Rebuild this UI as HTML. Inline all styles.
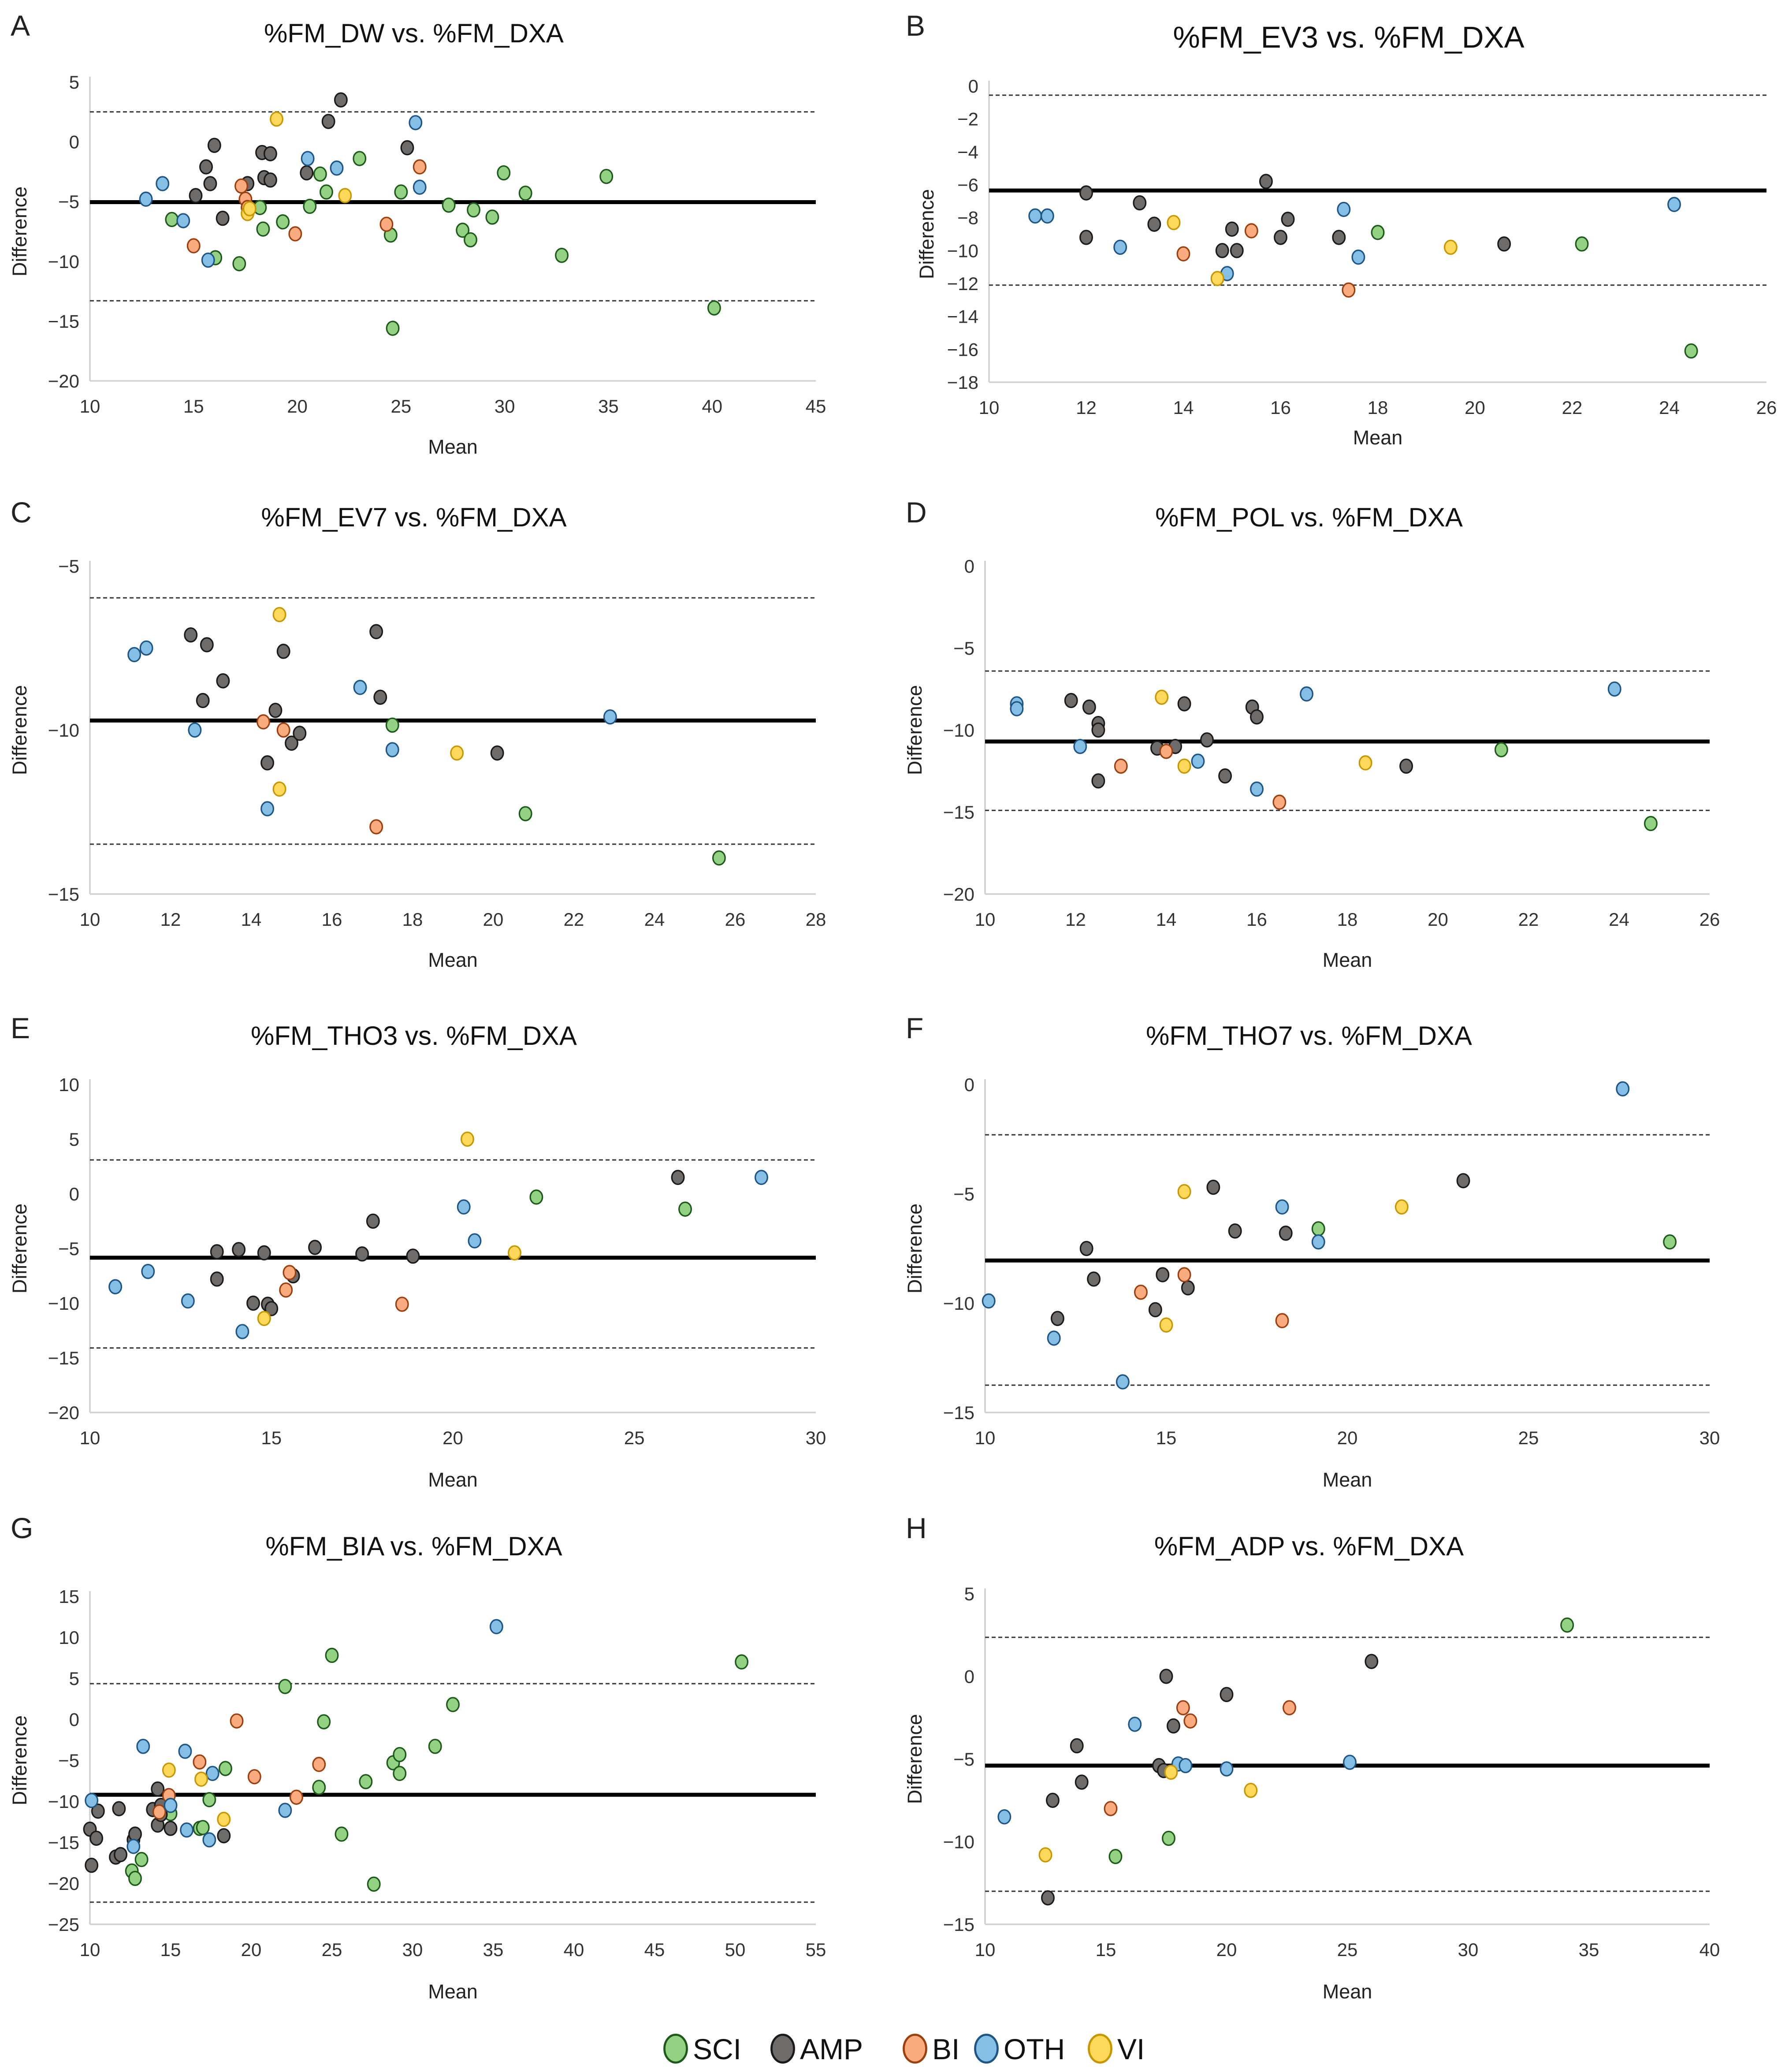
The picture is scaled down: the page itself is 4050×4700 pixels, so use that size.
<!DOCTYPE html>
<html><head><meta charset="utf-8"><title>Bland-Altman plots</title>
<style>
html,body{margin:0;padding:0;background:#fff;}
svg{display:block;font-family:"Liberation Sans",sans-serif;}
</style></head>
<body>
<svg id="fig" width="4050" height="4700" viewBox="0 0 1350 1566.67" xmlns="http://www.w3.org/2000/svg"></svg>
<script>
// ---------- DATA (mean, difference) ----------
const A_SCI=[[13.95,-6.5],[16.05,-9.7],[17.2,-10.2],[18.35,-7.3],[19.3,-6.7],[18.2,-5.5],[20.6,-5.4],[21.1,-2.7],[21.4,-4.2],[23.0,-1.4],[24.5,-7.8],[25.0,-4.2],[27.3,-5.3],[27.97,-7.4],[28.35,-8.2],[28.5,-5.7],[29.4,-6.3],[29.95,-2.6],[31.0,-4.3],[32.75,-9.5],[34.9,-2.9],[40.1,-13.9],[24.6,-15.6]];
const A_AMP=[[15.1,-4.5],[15.6,-2.1],[15.8,-3.5],[16.0,-0.3],[16.4,-6.4],[17.6,-3.5],[18.3,-0.9],[18.4,-3.0],[18.7,-3.2],[18.7,-1.0],[20.45,-2.6],[21.5,1.7],[22.1,3.5],[25.3,-0.5]];
const A_BI=[[15.0,-8.7],[17.3,-3.7],[17.5,-4.8],[17.6,-5.5],[19.9,-7.7],[24.3,-6.9],[25.9,-2.1]];
const A_OTH=[[12.7,-4.8],[13.5,-3.5],[14.5,-6.6],[15.7,-9.9],[20.5,-1.4],[21.9,-2.2],[25.7,1.6],[25.9,-3.8]];
const A_VI=[[19.0,1.9],[17.6,-6.0],[17.7,-5.6],[22.3,-4.5]];
const A_LINES=[-5.05,2.5,-13.3];

const B_SCI=[[18.0,-8.9],[22.2,-9.6],[24.45,-16.1]];
const B_AMP=[[12.0,-6.5],[12.0,-9.2],[13.1,-7.1],[13.4,-8.4],[14.8,-10.0],[15.0,-8.7],[15.1,-10.0],[15.7,-5.8],[16.0,-9.2],[16.15,-8.1],[17.2,-9.2],[20.6,-9.6]];
const B_BI=[[14.0,-10.2],[15.4,-8.8],[17.4,-12.4]];
const B_OTH=[[10.95,-7.9],[11.2,-7.9],[12.7,-9.8],[14.9,-11.4],[17.3,-7.5],[17.6,-10.4],[24.1,-7.2]];
const B_VI=[[13.8,-8.3],[14.7,-11.7],[19.5,-9.8]];
const B_LINES=[-6.35,-0.56,-12.1];

const C_SCI=[[17.5,-9.85],[20.8,-12.55],[25.6,-13.9]];
const C_AMP=[[12.5,-7.1],[12.9,-7.4],[12.8,-9.1],[13.3,-8.5],[14.4,-11.0],[14.6,-9.4],[14.8,-7.6],[15.0,-10.4],[15.2,-10.1],[17.1,-7.0],[17.2,-9.0],[20.1,-10.7]];
const C_BI=[[14.3,-9.75],[14.8,-10.0],[17.1,-12.95]];
const C_OTH=[[11.1,-7.7],[11.4,-7.5],[12.6,-10.0],[16.7,-8.7],[17.5,-10.6],[14.4,-12.4],[22.9,-9.6]];
const C_VI=[[14.7,-6.48],[14.7,-11.8],[19.1,-10.7]];
const C_LINES=[-9.71,-5.97,-13.48];

const D_SCI=[[21.4,-11.2],[24.7,-15.7]];
const D_AMP=[[11.9,-8.2],[12.3,-8.6],[12.5,-9.6],[12.5,-10.0],[12.5,-13.1],[13.8,-11.1],[14.2,-11.0],[14.4,-8.4],[14.9,-10.6],[15.3,-12.8],[15.9,-8.6],[16.0,-9.2],[19.3,-12.2]];
const D_BI=[[13.0,-12.2],[14.0,-11.3],[16.5,-14.4]];
const D_OTH=[[10.7,-8.4],[10.7,-8.7],[12.1,-11.0],[14.7,-11.9],[16.0,-13.6],[17.1,-7.8],[23.9,-7.5]];
const D_VI=[[13.9,-8.0],[14.4,-12.2],[18.4,-12.0]];
const D_LINES=[-10.7,-6.4,-14.9];

const E_SCI=[[22.3,-0.3],[26.4,-1.4]];
const E_AMP=[[13.5,-5.3],[13.5,-7.8],[14.1,-5.1],[14.5,-10.0],[14.8,-5.4],[14.9,-10.1],[15.0,-10.5],[15.6,-7.5],[16.2,-4.9],[17.5,-5.5],[17.8,-2.5],[18.9,-5.7],[26.2,1.5]];
const E_BI=[[15.5,-7.2],[15.4,-8.8],[18.6,-10.1]];
const E_OTH=[[10.7,-8.5],[11.6,-7.1],[12.7,-9.8],[14.2,-12.6],[20.3,-1.2],[20.6,-4.3],[28.5,1.5]];
const E_VI=[[14.8,-11.4],[20.4,5.0],[21.7,-5.4]];
const E_LINES=[-5.84,3.1,-14.1];

const F_SCI=[[19.2,-6.6],[28.9,-7.2]];
const F_AMP=[[12.0,-10.7],[13.0,-8.9],[12.8,-7.5],[14.7,-10.3],[14.9,-8.7],[15.6,-9.3],[16.3,-4.7],[16.9,-6.7],[18.3,-6.8],[23.2,-4.4]];
const F_BI=[[14.3,-9.5],[15.5,-8.7],[18.2,-10.8]];
const F_OTH=[[10.1,-9.9],[11.9,-11.6],[13.8,-13.6],[18.2,-5.6],[19.2,-7.2],[27.6,-0.2]];
const F_VI=[[15.5,-4.9],[15.0,-11.0],[21.5,-5.6]];
const F_LINES=[-8.05,-2.3,-13.75];

const G_SCI=[[12.6,-18.5],[12.8,-19.4],[13.2,-17.1],[15.0,-11.5],[16.8,-13.3],[17.0,-13.2],[17.4,-9.8],[18.4,-6.0],[22.1,4.0],[24.2,-8.3],[24.5,-0.3],[25.0,7.8],[25.6,-14.0],[27.1,-7.6],[27.6,-20.1],[28.8,-5.3],[29.2,-4.3],[29.2,-6.6],[31.4,-3.3],[32.5,1.8],[50.4,7.0]];
const G_AMP=[[10.0,-13.4],[10.1,-17.8],[10.4,-14.5],[10.5,-11.2],[11.6,-16.8],[11.8,-10.9],[11.9,-16.5],[12.7,-14.7],[12.8,-14.0],[13.9,-11.0],[14.2,-12.9],[14.2,-8.5],[14.4,-10.5],[15.0,-13.3],[18.3,-14.2],[14.4,-11.6]];
const G_BI=[[14.3,-11.3],[14.9,-9.3],[16.8,-5.2],[19.1,-0.2],[20.2,-7.0],[22.8,-9.5],[24.2,-5.5]];
const G_OTH=[[10.1,-9.9],[12.7,-15.5],[13.3,-3.3],[15.0,-10.5],[15.9,-3.9],[16.0,-13.5],[17.4,-14.7],[17.6,-6.6],[22.1,-11.1],[35.2,11.3]];
const G_VI=[[14.9,-6.2],[16.9,-7.3],[18.3,-12.2]];
const G_LINES=[-9.2,4.35,-22.3];

const H_SCI=[[15.4,-10.9],[17.6,-9.8],[34.1,3.1]];
const H_AMP=[[12.6,-13.4],[12.8,-7.5],[13.8,-4.2],[14.0,-6.4],[17.2,-5.4],[17.4,-5.7],[17.5,0.0],[17.8,-3.0],[20.0,-1.1],[26.0,0.9]];
const H_BI=[[15.2,-8.0],[18.2,-1.9],[18.5,-2.7],[22.6,-1.9]];
const H_OTH=[[10.8,-8.5],[16.2,-2.9],[18.0,-5.3],[18.3,-5.4],[20.0,-5.6],[25.1,-5.2]];
const H_VI=[[12.5,-10.8],[17.7,-5.8],[21.0,-6.9]];
const H_LINES=[-5.4,2.36,-13.0];

// tick arrays
const A_XT=[10,15,20,25,30,35,40,45], A_YT=[5,0,-5,-10,-15,-20];
const B_XT=[10,12,14,16,18,20,22,24,26], B_YT=[0,-2,-4,-6,-8,-10,-12,-14,-16,-18];
const C_XT=[10,12,14,16,18,20,22,24,26,28], C_YT=[-5,-10,-15];
const D_XT=[10,12,14,16,18,20,22,24,26], D_YT=[0,-5,-10,-15,-20];
const E_XT=[10,15,20,25,30], E_YT=[10,5,0,-5,-10,-15,-20];
const F_XT=[10,15,20,25,30], F_YT=[0,-5,-10,-15];
const G_XT=[10,15,20,25,30,35,40,45,50,55], G_YT=[15,10,5,0,-5,-10,-15,-20,-25];
const H_XT=[10,15,20,25,30,35,40], H_YT=[5,0,-5,-10,-15];

const GROUPS=["SCI","AMP","BI","OTH","VI"];
const FILL={SCI:"#93d283",AMP:"#6e6b6b",BI:"#fbab80",OTH:"#86bfe6",VI:"#fdd85a"};
const STROKE={SCI:"#1d5a1a",AMP:"#1a1a1a",BI:"#9a3f0d",OTH:"#1d5585",VI:"#c79700"};

const NS="http://www.w3.org/2000/svg";
const svg=document.getElementById('fig');
function mk(tag,attrs,parent){const e=document.createElementNS(NS,tag);for(const k in attrs)e.setAttribute(k,attrs[k]);(parent||svg).appendChild(e);return e;}

const panels=[
 {id:"A",title:"%FM_DW vs. %FM_DXA",x0:68,x1:617,yt:62,yb:288,xmin:10,xmax:45,ymax:5,ymin:-20,xt:A_XT,yt_:A_YT,data:[A_SCI,A_AMP,A_BI,A_OTH,A_VI],lines:A_LINES,ty:32,tx:313,lx:8,ly:27,my:343,dx:20,ts:20},
 {id:"B",title:"%FM_EV3 vs. %FM_DXA",x0:748,x1:1336,yt:65,yb:289,xmin:10,xmax:26,ymax:0,ymin:-18,xt:B_XT,yt_:B_YT,data:[B_SCI,B_AMP,B_BI,B_OTH,B_VI],lines:B_LINES,ty:36,tx:1020,lx:685,ly:27,my:336,dx:706,ts:23,mx:1042},
 {id:"C",title:"%FM_EV7 vs. %FM_DXA",x0:68,x1:617,yt:428,yb:676,xmin:10,xmax:28,ymax:-5,ymin:-15,xt:C_XT,yt_:C_YT,data:[C_SCI,C_AMP,C_BI,C_OTH,C_VI],lines:C_LINES,ty:398,tx:313,lx:8,ly:395,my:731,dx:20,ts:20},
 {id:"D",title:"%FM_POL vs. %FM_DXA",x0:745,x1:1293,yt:428,yb:676,xmin:10,xmax:26,ymax:0,ymin:-20,xt:D_XT,yt_:D_YT,data:[D_SCI,D_AMP,D_BI,D_OTH,D_VI],lines:D_LINES,ty:398,tx:990,lx:685,ly:395,my:731,dx:697,ts:20},
 {id:"E",title:"%FM_THO3 vs. %FM_DXA",x0:68,x1:617,yt:820,yb:1068,xmin:10,xmax:30,ymax:10,ymin:-20,xt:E_XT,yt_:E_YT,data:[E_SCI,E_AMP,E_BI,E_OTH,E_VI],lines:E_LINES,ty:790,tx:313,lx:8,ly:785,my:1124,dx:20,ts:20},
 {id:"F",title:"%FM_THO7 vs. %FM_DXA",x0:745,x1:1293,yt:820,yb:1068,xmin:10,xmax:30,ymax:0,ymin:-15,xt:F_XT,yt_:F_YT,data:[F_SCI,F_AMP,F_BI,F_OTH,F_VI],lines:F_LINES,ty:790,tx:990,lx:685,ly:785,my:1124,dx:697,ts:20},
 {id:"G",title:"%FM_BIA vs. %FM_DXA",x0:68,x1:617,yt:1207,yb:1455,xmin:10,xmax:55,ymax:15,ymin:-25,xt:G_XT,yt_:G_YT,data:[G_SCI,G_AMP,G_BI,G_OTH,G_VI],lines:G_LINES,ty:1176,tx:313,lx:8,ly:1163,my:1511,dx:20,ts:20},
 {id:"H",title:"%FM_ADP vs. %FM_DXA",x0:745,x1:1293,yt:1205,yb:1455,xmin:10,xmax:40,ymax:5,ymin:-15,xt:H_XT,yt_:H_YT,data:[H_SCI,H_AMP,H_BI,H_OTH,H_VI],lines:H_LINES,ty:1176,tx:990,lx:685,ly:1163,my:1511,dx:697,ts:20}
];

panels.forEach(p=>{
  const g=mk('g',{});
  
  
  const sx=v=>p.x0+(v-p.xmin)/(p.xmax-p.xmin)*(p.x1-p.x0);
  const sy=v=>p.yt+(p.ymax-v)/(p.ymax-p.ymin)*(p.yb-p.yt);
  let t=mk('text',{x:p.lx,y:p.ly,'font-size':22,fill:'#222'},g);t.textContent=p.id;
  
  t=mk('text',{x:p.tx,y:p.ty,'font-size':p.ts,'text-anchor':'middle',fill:'#111'},g);t.textContent=p.title;
  
  // axes
  let a=mk('line',{x1:p.x0,y1:p.yt-4,x2:p.x0,y2:p.yb,stroke:'#d0d0d0','stroke-width':1.2},g);
  
  a=mk('line',{x1:p.x0,y1:p.yb,x2:p.x1,y2:p.yb,stroke:'#d0d0d0','stroke-width':1.2},g);
  
  p.xt.forEach(v=>{const e=mk('text',{x:sx(v),y:p.yb+24,'font-size':14,'text-anchor':'middle',fill:'#333'},g);e.textContent=v;
    });
  p.yt_.forEach(v=>{const e=mk('text',{x:p.x0-8,y:sy(v)+5,'font-size':14,'text-anchor':'end',fill:'#333'},g);e.textContent=(v<0?'\u2212'+(-v):v);
    });
  t=mk('text',{x:p.mx||(p.x0+p.x1)/2,y:p.my,'font-size':15,'text-anchor':'middle',fill:'#222'},g);t.textContent='Mean';
  
  const cy=(p.yt+p.yb)/2;
  t=mk('text',{x:p.dx,y:cy,'font-size':15,'text-anchor':'middle',fill:'#222',transform:`rotate(-90 ${p.dx} ${cy})`},g);t.textContent='Difference';
  
  // lines
  let l=mk('line',{x1:p.x0,x2:p.x1,y1:sy(p.lines[0]),y2:sy(p.lines[0]),stroke:'#000','stroke-width':3},g);
  
  l=mk('line',{x1:p.x0,x2:p.x1,y1:sy(p.lines[1]),y2:sy(p.lines[1]),stroke:'#333','stroke-width':1,'stroke-dasharray':'3,2'},g);
  
  l=mk('line',{x1:p.x0,x2:p.x1,y1:sy(p.lines[2]),y2:sy(p.lines[2]),stroke:'#333','stroke-width':1,'stroke-dasharray':'3,2'},g);
  
  // points
  p.data.forEach((arr,gi)=>{const grp=GROUPS[gi];
    arr.forEach(d=>{const c=mk('ellipse',{cx:sx(d[0]),cy:sy(d[1]),rx:4.6,ry:5.2,fill:FILL[grp],stroke:STROKE[grp],'stroke-width':1.1},g);
      
      });
  });
});

// legend
const lg=mk('g',{});


const LEG_X=[511,592,692,746,832];
GROUPS.forEach((grp,i)=>{
  const c=mk('ellipse',{cx:LEG_X[i],cy:1549,rx:8.5,ry:10.5,fill:FILL[grp],stroke:STROKE[grp],'stroke-width':1.6},lg);
  
  
  const t=mk('text',{x:LEG_X[i]+13,y:1557,'font-size':22,fill:'#111'},lg);t.textContent=grp;
  
  
});
</script>
</body></html>
